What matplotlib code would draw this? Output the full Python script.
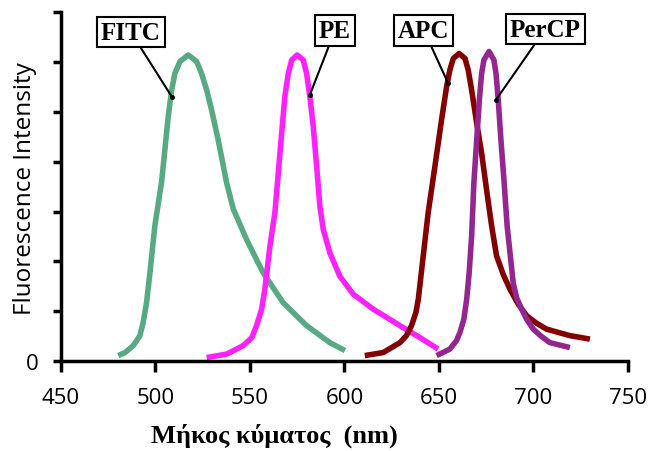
import numpy as np
import matplotlib.pyplot as plt

# =========================================================
# DATA
# =========================================================
fitc_x = [480.3, 483.9, 488.3, 491.8, 493.5, 495.3, 497.1, 499.7, 503.3, 505.0,
          506.8, 508.6, 510.3, 513.0, 517.4, 521.8, 524.4, 527.1, 529.7, 533.2,
          537.7, 541.2, 548.2, 557.0, 567.6, 580.0, 592.3, 600.3]
fitc_y = [0.11, 0.17, 0.31, 0.51, 0.77, 1.17, 1.77, 2.71, 3.60, 4.24,
          4.91, 5.44, 5.77, 6.01, 6.14, 6.01, 5.77, 5.44, 5.04, 4.44,
          3.57, 3.05, 2.44, 1.77, 1.17, 0.71, 0.37, 0.21]

pe_x = [527.1, 537.7, 546.5, 551.0, 553.5, 556.2, 557.9, 560.6, 563.2, 565.0,
        566.8, 568.5, 570.3, 572.1, 575.0, 578.2, 580.0, 581.7, 583.5, 585.3,
        587.0, 588.8, 592.3, 597.6, 604.7, 615.3, 629.4, 640.0, 649.6]
pe_y = [0.07, 0.14, 0.31, 0.47, 0.71, 1.04, 1.44, 2.31, 2.97, 3.77,
        4.57, 5.31, 5.77, 6.04, 6.14, 6.04, 5.77, 5.31, 4.71, 3.91,
        3.11, 2.64, 2.17, 1.70, 1.34, 1.04, 0.71, 0.47, 0.24]

apc_x = [610.8, 620.5, 629.4, 632.8, 635.5, 637.8, 639.1, 640.3, 641.7, 644.3,
         647.9, 651.4, 654.1, 655.8, 657.6, 660.7, 663.8, 665.5, 667.3, 670.0,
         672.6, 675.2, 677.9, 680.5, 684.0, 687.6, 692.0, 696.4, 701.6, 707.0,
         719.3, 729.9]
apc_y = [0.11, 0.17, 0.37, 0.51, 0.71, 0.97, 1.24, 1.64, 2.11, 2.97,
         3.91, 4.84, 5.51, 5.84, 6.07, 6.17, 6.07, 5.84, 5.44, 4.77,
         4.17, 3.44, 2.71, 2.11, 1.74, 1.44, 1.14, 0.91, 0.76, 0.64,
         0.51, 0.44]

percp_x = [648.8, 655.8, 659.3, 661.1, 663.2, 664.7, 666.0, 667.3, 668.5, 670.0,
           671.4, 672.6, 673.8, 676.5, 679.1, 680.2, 681.4, 682.8, 684.4, 686.1,
           689.3, 691.1, 693.8, 696.4, 699.9, 704.4, 708.7, 719.3]
percp_y = [0.11, 0.24, 0.41, 0.57, 0.84, 1.24, 1.77, 2.50, 3.57, 4.44,
           5.24, 5.77, 6.04, 6.21, 6.04, 5.77, 5.24, 4.44, 3.64, 2.71,
           1.57, 1.27, 1.04, 0.84, 0.64, 0.49, 0.37, 0.27]

# label text position and the point on the curve the leader goes to
labels = ["FITC", "PE", "APC", "PerCP"]
label_xy = [(487.0, 6.60), (595.0, 6.63), (642.1, 6.63), (706.3, 6.66)]
point_xy = [(508.7, 5.30), (581.7, 5.34), (654.8, 5.58), (680.2, 5.24)]

x_ticks = [450, 500, 550, 600, 650, 700, 750]

# =========================================================
# PLOT
# =========================================================
fig = plt.figure(figsize=(6.48, 4.52), dpi=100)
ax = fig.add_axes([0.094, 0.199, 0.875, 0.772])

series = [
    (fitc_x, fitc_y, "#58AA84"),
    (pe_x, pe_y, "#FF22FF"),
    (apc_x, apc_y, "#820000"),
    (percp_x, percp_y, "#93278F"),
]
for xs, ys, col in series:
    ax.plot(xs, ys, color=col, linewidth=4.0, solid_capstyle="butt",
            solid_joinstyle="round")

for name, (tx, ty), (px, py) in zip(labels, label_xy, point_xy):
    ax.annotate(
        name, xy=(px, py), xytext=(tx, ty),
        ha="center", va="center",
        fontsize=18, fontweight="bold", family="Liberation Serif",
        bbox=dict(boxstyle="square,pad=0.15", fc="white", ec="black", lw=1.5),
        arrowprops=dict(arrowstyle="-", color="black", lw=1.5,
                        shrinkA=0, shrinkB=0),
    )
    ax.plot(px, py, marker="o", markersize=2.5, color="black")

ax.set_xlim(450, 750)
ax.set_ylim(0, 7)
ax.set_xticks(x_ticks)
ax.set_xticklabels([str(t) for t in x_ticks], family="Open Sans", fontsize=16)
ax.set_yticks(range(0, 8))
ax.set_yticklabels(["0"] + [""] * 7, family="Open Sans", fontsize=16)

for side in ["top", "right"]:
    ax.spines[side].set_visible(False)
for side in ["left", "bottom"]:
    ax.spines[side].set_linewidth(2.5)
ax.tick_params(axis="x", direction="out", length=8, width=2.5, pad=11)
ax.tick_params(axis="y", direction="out", length=6, width=2.5, pad=10)

ax.set_ylabel("Fluorescence Intensity", family="Open Sans", fontsize=17.5)
ax.yaxis.set_label_coords(-0.042, 0.496)
ax.set_xlabel("Μήκος κύματος  (nm)", family="Liberation Serif",
              fontweight="bold", fontsize=19)
ax.xaxis.set_label_coords(0.376, -0.175)

fig.savefig("out.png", dpi=100)
